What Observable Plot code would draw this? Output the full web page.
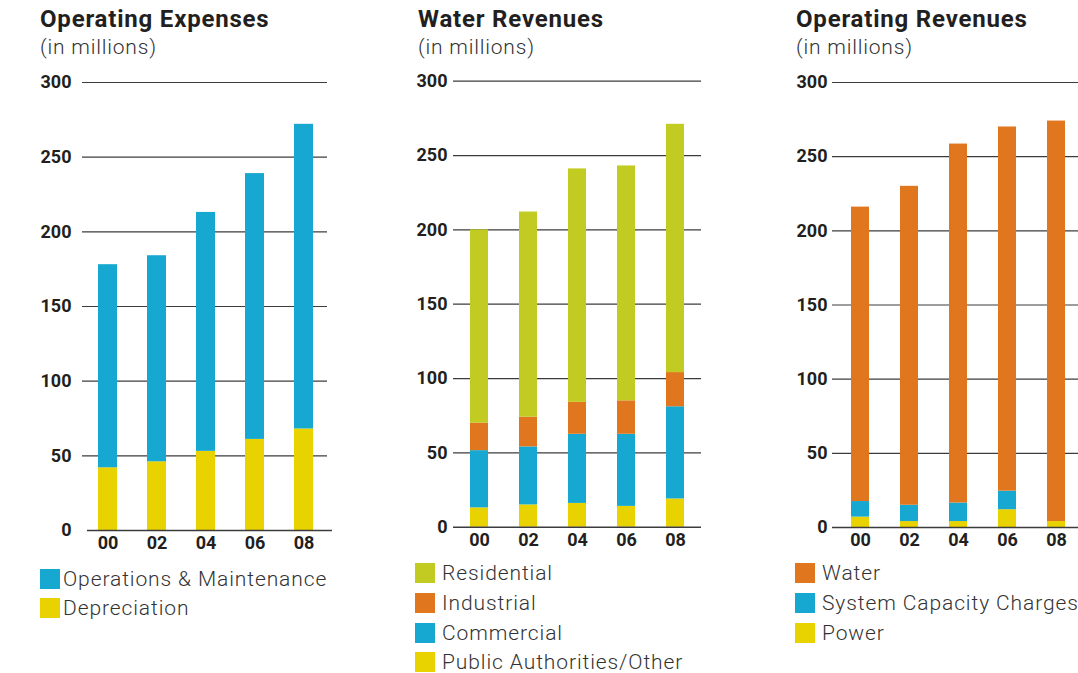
<!DOCTYPE html>
<html>
<head>
<meta charset="utf-8">
<script src="https://cdn.jsdelivr.net/npm/d3@7"></script>
<script src="https://cdn.jsdelivr.net/npm/@observablehq/plot@0.6"></script>
<style>
  html, body { margin: 0; padding: 0; background: #fff; overflow: hidden; }
  #root { position: relative; width: 1078px; height: 673px; font-family: Roboto, "Open Sans", sans-serif; color: #231f20; }
  .title { position: absolute; font-size: 24px; font-weight: 700; line-height: 1; white-space: nowrap; color: #231f20; letter-spacing: 0.8px; }
  .sub { position: absolute; font-size: 21px; font-weight: 300; line-height: 1; white-space: nowrap; color: #333; letter-spacing: 0.8px; }
  .plot { position: absolute; }
  .leg { position: absolute; display: flex; align-items: center; height: 20px; line-height: 20px; font-size: 21px; font-weight: 300; color: #333; white-space: nowrap; letter-spacing: 0.9px; }
  .sw { width: 20px; height: 20px; flex: none; }
</style>
</head>
<body>
<div id="root"></div>
<script>
// ---------- data ----------
const years = ["00", "02", "04", "06", "08"];
const yTicks = [0, 50, 100, 150, 200, 250, 300];

// Operating Expenses (bottom to top)
const opexNames = ["Depreciation", "Operations & Maintenance"];
const opexDepreciation = [42, 46, 53, 61, 68];
const opexOM = [136, 138, 160, 178, 204];
const opexColors = ["#e8d200", "#16a8d0"];

// Water Revenues (bottom to top)
const wrNames = ["Public Authorities/Other", "Commercial", "Industrial", "Residential"];
const wrPublic = [13, 15, 16, 14, 19];
const wrCommercial = [38.5, 39, 46.5, 48.5, 62];
const wrIndustrial = [18.5, 20, 21.5, 22.5, 23];
const wrResidential = [130, 138, 157, 158, 167];
const wrColors = ["#e8d200", "#16a8d0", "#e0761e", "#c1cb21"];

// Operating Revenues (bottom to top)
const orNames = ["Power", "System Capacity Charges", "Water"];
const orPower = [7, 4, 4, 12, 4];
const orSystem = [10.5, 11, 12.5, 12.5, 0];
const orWater = [198.5, 215, 242, 245.5, 270];
const orColors = ["#e8d200", "#16a8d0", "#e0761e"];

// ---------- helpers ----------
const root = document.getElementById("root");
function rowsOf(names, seriesList) {
  const rows = [];
  names.forEach((n, si) => years.forEach((yr, i) => rows.push({year: yr, series: n, value: seriesList[si][i]})));
  return rows;
}
function addText(cls, text, left, top) {
  const d = document.createElement("div");
  d.className = cls; d.textContent = text;
  d.style.left = left + "px"; d.style.top = top + "px";
  root.appendChild(d);
}
function addLegend(names, colors, left, tops, gap) {
  names.forEach((n, i) => {
    const row = document.createElement("div");
    row.className = "leg";
    row.style.left = left + "px"; row.style.top = tops[i] + "px";
    const sw = document.createElement("span");
    sw.className = "sw"; sw.style.background = colors[i]; sw.style.marginRight = gap + "px";
    const t = document.createElement("span"); t.textContent = n;
    row.appendChild(sw); row.appendChild(t);
    root.appendChild(row);
  });
}
function addPlot(cfg) {
  const rows = rowsOf(cfg.names, cfg.series);
  const p = Plot.plot({
    width: cfg.width, height: cfg.height,
    marginLeft: cfg.ml, marginRight: cfg.mr, marginTop: cfg.mt, marginBottom: cfg.mb,
    style: {fontFamily: "Roboto, sans-serif", fontSize: "18px", fontWeight: "700", color: "#231f20", background: "transparent", overflow: "visible"},
    x: {domain: years, paddingInner: cfg.pi, paddingOuter: cfg.po, align: cfg.align, label: null},
    y: {domain: [0, 300], label: null},
    color: {domain: cfg.names, range: cfg.colors},
    marks: [
      Plot.ruleY(yTicks.filter(d => d > 0), {stroke: "#3c3c3c", strokeWidth: 1.2}),
      Plot.barY(rows, {x: "year", y: "value", fill: "series"}),
      Plot.ruleY([0], {stroke: "#3c3c3c", strokeWidth: 1.6, dx: cfg.zeroDx}),
      Plot.axisY(yTicks, {tickSize: 0, tickPadding: cfg.ypad, tickFormat: d => String(d), label: null}),
      Plot.axisX({tickSize: 0, tickPadding: 6, label: null})
    ]
  });
  p.classList.add("plot");
  p.style.left = cfg.left + "px"; p.style.top = cfg.top + "px";
  root.appendChild(p);
}

// ---------- panel 1 ----------
addText("title", "Operating Expenses", 40, 7);
addText("sub", "(in millions)", 40, 37);
addPlot({names: opexNames, series: [opexDepreciation, opexOM], colors: opexColors,
  left: 0, top: 60, width: 340, height: 500, ml: 82, mr: 13, mt: 22, mb: 30,
  pi: 0.613, po: 0.30, align: 0.54, ypad: 11, zeroDx: 5});
addLegend(["Operations & Maintenance", "Depreciation"], ["#16a8d0", "#e8d200"], 40, [569, 598], 3);

// ---------- panel 2 ----------
addText("title", "Water Revenues", 418, 7);
addText("sub", "(in millions)", 418, 37);
addPlot({names: wrNames, series: [wrPublic, wrCommercial, wrIndustrial, wrResidential], colors: wrColors,
  left: 380, top: 60, width: 330, height: 500, ml: 73, mr: 9, mt: 20.7, mb: 33.3,
  pi: 0.6345, po: 0.335, align: 0.485, ypad: 6, zeroDx: 0});
addLegend(["Residential", "Industrial", "Commercial", "Public Authorities/Other"],
  ["#c1cb21", "#e0761e", "#16a8d0", "#e8d200"], 415, [563, 593, 622.7, 651.7], 7);

// ---------- panel 3 ----------
addText("title", "Operating Revenues", 796, 7);
addText("sub", "(in millions)", 796, 37);
addPlot({names: orNames, series: [orPower, orSystem, orWater], colors: orColors,
  left: 760, top: 60, width: 318, height: 500, ml: 72, mr: 0, mt: 22, mb: 33,
  pi: 0.638, po: 0.29, align: 0.586, ypad: 5, zeroDx: 0});
addLegend(["Water", "System Capacity Charges", "Power"], ["#e0761e", "#16a8d0", "#e8d200"], 795, [563, 593, 622.7], 7);
</script>
</body>
</html>
